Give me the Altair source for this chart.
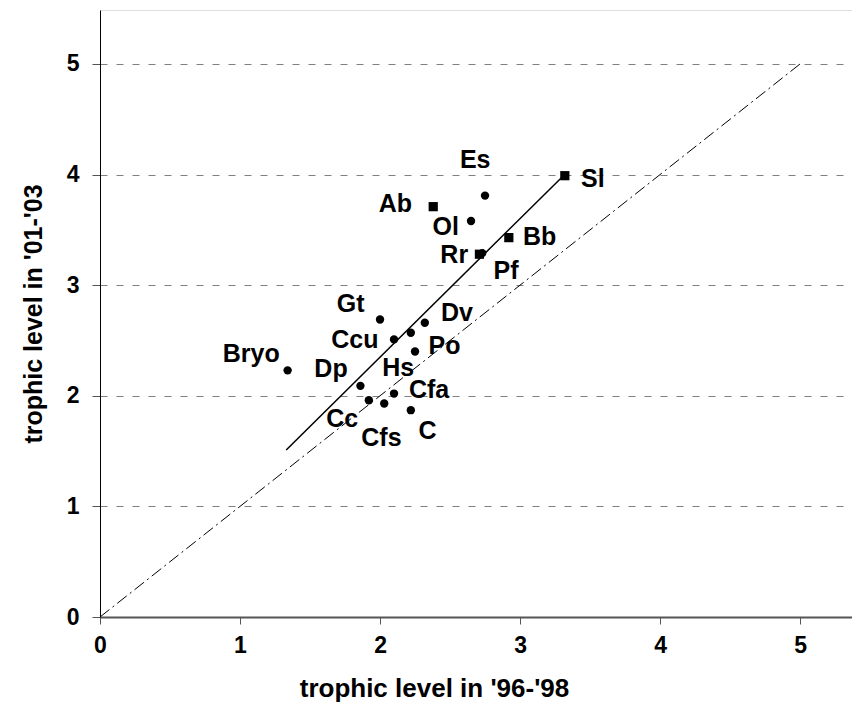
import altair as alt
import pandas as pd

# Species codes and trophic levels
names = ["Es", "Sl", "Ab", "Ol", "Bb", "Rr", "Pf", "Gt", "Dv", "Hs", "Ccu", "Po",
         "Bryo", "Dp", "Cfa", "Cc", "Cfs", "C"]
tl_9698 = [2.75, 3.32, 2.38, 2.65, 2.92, 2.71, 2.73, 2.00, 2.32, 2.22, 2.10, 2.25,
           1.34, 1.86, 2.10, 1.92, 2.03, 2.22]
tl_0103 = [3.81, 3.99, 3.71, 3.58, 3.43, 3.28, 3.29, 2.69, 2.66, 2.57, 2.51, 2.40,
           2.23, 2.09, 2.02, 1.96, 1.93, 1.87]
group = ["circle", "square", "square", "circle", "square", "square", "circle", "circle",
         "circle", "circle", "circle", "circle", "circle", "circle", "circle", "circle",
         "circle", "circle"]
# label anchor points (data units)
label_x = [2.68, 3.52, 2.11, 2.47, 3.14, 2.53, 2.90, 1.79, 2.55, 2.13, 1.82, 2.46,
           1.08, 1.65, 2.35, 1.73, 2.01, 2.34]
label_y = [4.13, 3.96, 3.73, 3.53, 3.44, 3.27, 3.13, 2.83, 2.75, 2.25, 2.50, 2.45,
           2.38, 2.24, 2.05, 1.79, 1.62, 1.68]

fit_x = [1.33, 3.31]
fit_y = [1.51, 3.99]
one_x = [0, 5]
one_y = [0, 5]
ticks = [0, 1, 2, 3, 4, 5]

df = pd.DataFrame({"name": names, "x": tl_9698, "y": tl_0103, "g": group,
                   "lx": label_x, "ly": label_y})
fit = pd.DataFrame({"x": fit_x, "y": fit_y})
one = pd.DataFrame({"x": one_x, "y": one_y})

FONT = "Liberation Sans"
xs = alt.Scale(domain=[0, 5.371], nice=False, zero=False)
ys = alt.Scale(domain=[0, 5.488], nice=False, zero=False)

xax = alt.Axis(values=ticks, grid=False, title="trophic level in '96-'98",
               domainColor="#555555", domainWidth=2, tickColor="#555555",
               tickSize=7, labelPadding=10, labelFontSize=23, labelFont=FONT,
               labelFontWeight="bold", labelColor="black", labelFlush=False,
               titleFontSize=26,
               titleFont=FONT, titleFontWeight="bold", titleColor="black",
               titlePadding=18, titleX=334, titleAlign="center", format="d")
yax = alt.Axis(values=ticks, grid=True, gridDash=[7, 9], gridColor="#808080",
               gridWidth=1, title="trophic level in '01-'03",
               domainColor="black", domainWidth=1, tickColor="#555555",
               tickSize=8, labelPadding=13, labelFontSize=23, labelFont=FONT,
               labelFontWeight="bold", labelColor="black", labelFlush=False,
               titleFontSize=25,
               titleFont=FONT, titleFontWeight="bold", titleColor="black",
               titlePadding=20, format="d")

base_x = alt.X("x:Q", scale=xs, axis=xax)
base_y = alt.Y("y:Q", scale=ys, axis=yax)

ident = alt.Chart(one).mark_line(color="black", strokeWidth=1,
                                 strokeDash=[12, 4, 2, 4]).encode(x=base_x, y=base_y)
fitl = alt.Chart(fit).mark_line(color="black", strokeWidth=1.5).encode(
    x=alt.X("x:Q", scale=xs), y=alt.Y("y:Q", scale=ys))

circ = alt.Chart(df).transform_filter(alt.datum.g == "circle").mark_point(
    shape="circle", filled=True, color="black", size=70, opacity=1).encode(
    x=alt.X("x:Q", scale=xs), y=alt.Y("y:Q", scale=ys))
sq = alt.Chart(df).transform_filter(alt.datum.g == "square").mark_point(
    shape="square", filled=True, color="black", size=85, opacity=1).encode(
    x=alt.X("x:Q", scale=xs), y=alt.Y("y:Q", scale=ys))
lab = alt.Chart(df).mark_text(font=FONT, fontWeight="bold", fontSize=25,
                              color="black", align="center", baseline="middle").encode(
    x=alt.X("lx:Q", scale=xs), y=alt.Y("ly:Q", scale=ys), text="name:N")

chart = alt.layer(ident, fitl, circ, sq, lab).properties(
    width=752, height=607,
    autosize=alt.AutoSizeParams(type="none"),
    padding={"left": 92, "top": 2, "right": 0, "bottom": 90},
).configure_view(stroke=None).configure(background="white")

chart.save("out.html", embed_options={"renderer": "svg", "actions": False})
